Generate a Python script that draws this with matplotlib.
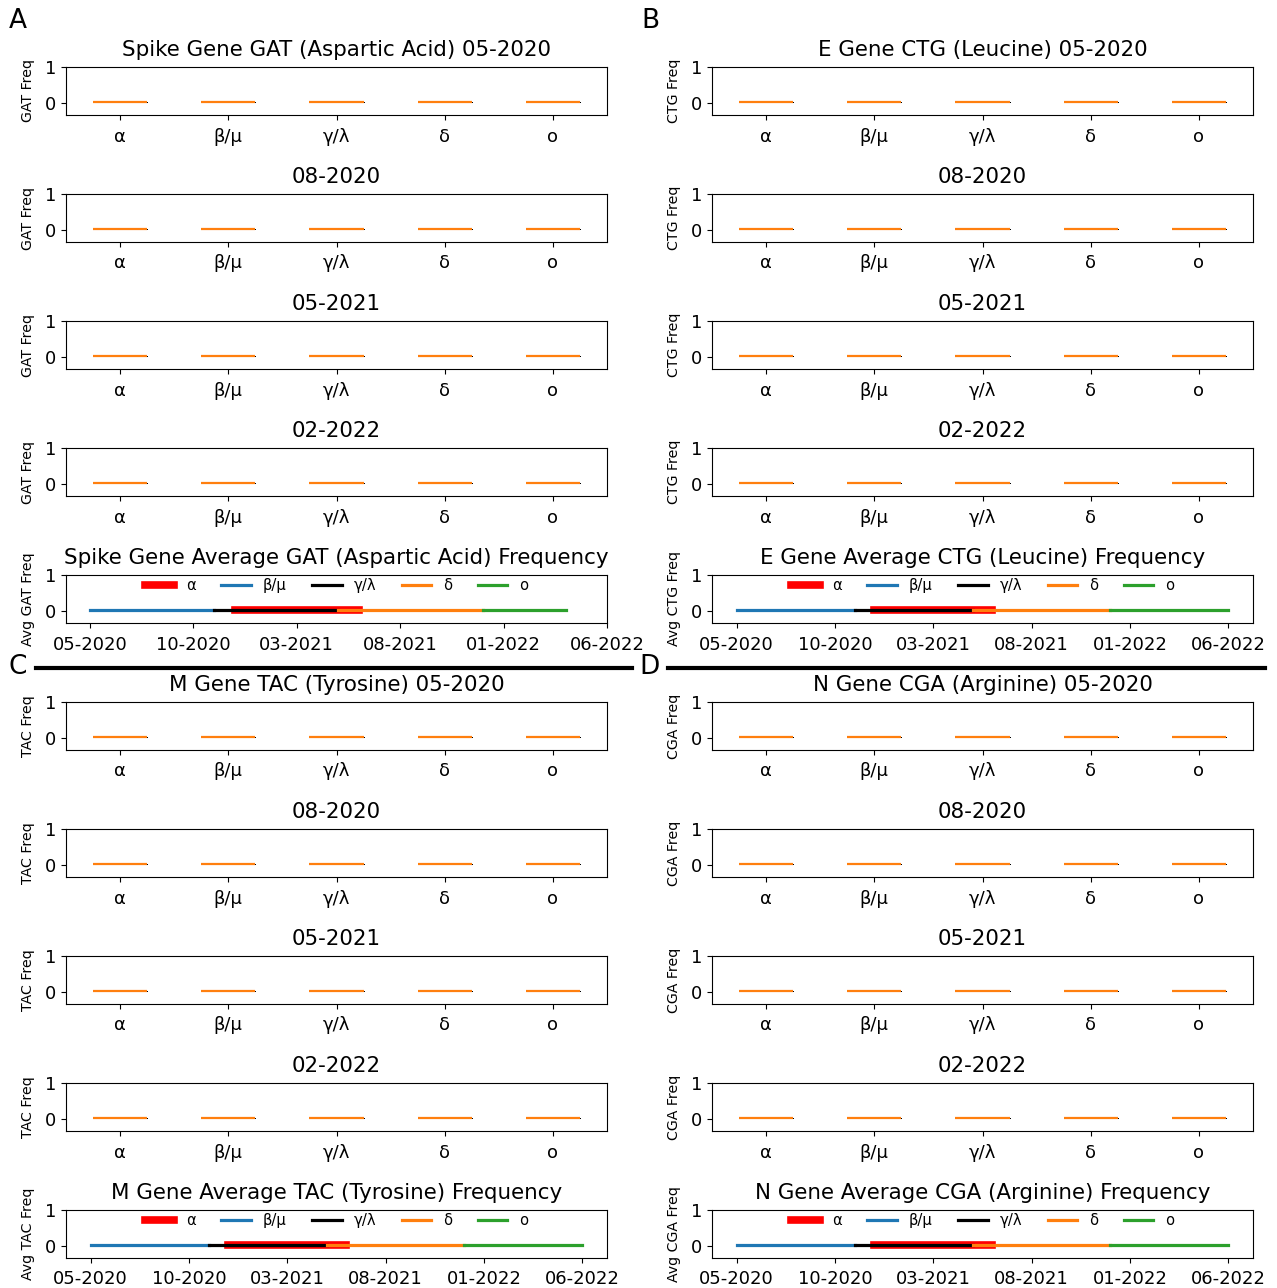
import numpy as np
import matplotlib.pyplot as plt
from matplotlib.lines import Line2D

# datos
variantes = ['α', 'β/μ', 'γ/λ', 'δ', 'ο']
fechas = ['05-2020', '08-2020', '05-2021', '02-2022']
meses_ticks = ['05-2020', '10-2020', '03-2021', '08-2021', '01-2022', '06-2022']
meses_pos = [0, 5, 10, 15, 20, 25]

genes = ['Spike Gene', 'E Gene', 'M Gene', 'N Gene']
codones = ['GAT', 'CTG', 'TAC', 'CGA']
aminos = ['Aspartic Acid', 'Leucine', 'Tyrosine', 'Arginine']

# medianas de frecuencia por fecha (filas) y variante (columnas)
spike_gat = [[0.035, 0.03, 0.03, 0.035, 0.035],
             [0.035, 0.03, 0.03, 0.03, 0.035],
             [0.03, 0.03, 0.03, 0.03, 0.03],
             [0.03, 0.03, 0.035, 0.03, 0.03]]
e_ctg = [[0.025, 0.025, 0.025, 0.025, 0.025],
         [0.025, 0.025, 0.025, 0.025, 0.025],
         [0.025, 0.025, 0.025, 0.025, 0.025],
         [0.025, 0.025, 0.02, 0.025, 0.025]]
m_tac = [[0.03, 0.03, 0.03, 0.03, 0.03],
         [0.03, 0.025, 0.03, 0.03, 0.03],
         [0.03, 0.03, 0.03, 0.03, 0.03],
         [0.03, 0.03, 0.03, 0.03, 0.03]]
n_cga = [[0.02, 0.02, 0.02, 0.02, 0.02],
         [0.02, 0.02, 0.02, 0.025, 0.02],
         [0.02, 0.02, 0.025, 0.02, 0.02],
         [0.02, 0.02, 0.02, 0.02, 0.02]]
medianas = [spike_gat, e_ctg, m_tac, n_cga]
rango = 0.003  # dispersion casi nula

# promedio: inicio y fin (indice de mes desde 05-2020) por variante
inicio = [7, 0, 6, 12, 19]
fin_spike = [13, 6, 12, 19, 23]
fin_otros = [13, 6, 12, 19, 25]
fines = [fin_spike, fin_otros, fin_otros, fin_otros]
prom_spike = [0.03, 0.03, 0.03, 0.03, 0.03]
prom_e = [0.025, 0.025, 0.025, 0.025, 0.025]
prom_m = [0.03, 0.03, 0.03, 0.03, 0.03]
prom_n = [0.02, 0.02, 0.02, 0.02, 0.02]
promedios = [prom_spike, prom_e, prom_m, prom_n]

colores = ['red', 'tab:blue', 'black', 'tab:orange', 'tab:green']
grosores = [5.5, 2.3, 2.3, 2.3, 2.3]

W, H = 1277, 1288
fig = plt.figure(figsize=(W / 100, H / 100), dpi=100)

lefts = [66, 712, 66, 712]
tops = [67, 67, 702, 702]
ancho = 541
alto = 48
paso = 127

for g in range(4):
    x0 = lefts[g] / W
    for r in range(5):
        top = tops[g] + paso * r
        ax = fig.add_axes([x0, 1 - (top + alto) / H, ancho / W, alto / H])
        if r < 4:
            stats = []
            for v in range(5):
                m = medianas[g][r][v]
                stats.append({'med': m, 'q1': m - rango / 2, 'q3': m + rango / 2,
                              'whislo': m - rango, 'whishi': m + rango, 'fliers': []})
            ax.bxp(stats, positions=[1, 2, 3, 4, 5], showfliers=False,
                   medianprops={'color': 'tab:orange', 'linewidth': 1.6},
                   boxprops={'linewidth': 0.5}, whiskerprops={'linewidth': 0.5},
                   capprops={'linewidth': 0.5})
            ax.set_xticks([1, 2, 3, 4, 5])
            ax.set_xticklabels(variantes)
            ax.set_ylabel(codones[g] + ' Freq', fontsize=10.2, labelpad=7)
            if r == 0:
                ax.set_title(genes[g] + ' ' + codones[g] + ' (' + aminos[g] + ') ' + fechas[r],
                             fontsize=15.4, pad=8)
            else:
                ax.set_title(fechas[r], fontsize=15.4, pad=8)
        else:
            for v in range(5):
                ax.plot([inicio[v], fines[g][v]], [promedios[g][v], promedios[g][v]],
                        color=colores[v], linewidth=grosores[v], label=variantes[v])
            ax.set_xticks(meses_pos)
            ax.set_xticklabels(meses_ticks)
            ax.set_ylabel('Avg ' + codones[g] + ' Freq', fontsize=10.2, labelpad=7)
            ax.set_title(genes[g] + ' Average ' + codones[g] + ' (' + aminos[g] + ') Frequency',
                         fontsize=15.4, pad=8)
            ax.legend(loc='upper center', ncol=5, frameon=False, fontsize=10.6,
                      borderaxespad=0.0, borderpad=0.15, columnspacing=1.75,
                      bbox_to_anchor=(0.5, 0.985))
        ax.set_ylim(-0.33, 1)
        ax.set_yticks([0, 1])
        ax.tick_params(labelsize=13)
        ax.tick_params(axis='x', pad=5.5)

# separadores y letras
fig.add_artist(Line2D([36 / W, 632 / W], [1 - 668 / H, 1 - 668 / H], color='black', linewidth=3))
fig.add_artist(Line2D([668 / W, 1265 / W], [1 - 668 / H, 1 - 668 / H], color='black', linewidth=3))
fig.text(18 / W, 1 - 21 / H, 'A', fontsize=19, ha='center', va='center')
fig.text(650 / W, 1 - 21 / H, 'B', fontsize=19, ha='center', va='center')
fig.text(18 / W, 1 - 667 / H, 'C', fontsize=19, ha='center', va='center')
fig.text(650 / W, 1 - 667 / H, 'D', fontsize=19, ha='center', va='center')

plt.savefig('out.png', dpi=100)
